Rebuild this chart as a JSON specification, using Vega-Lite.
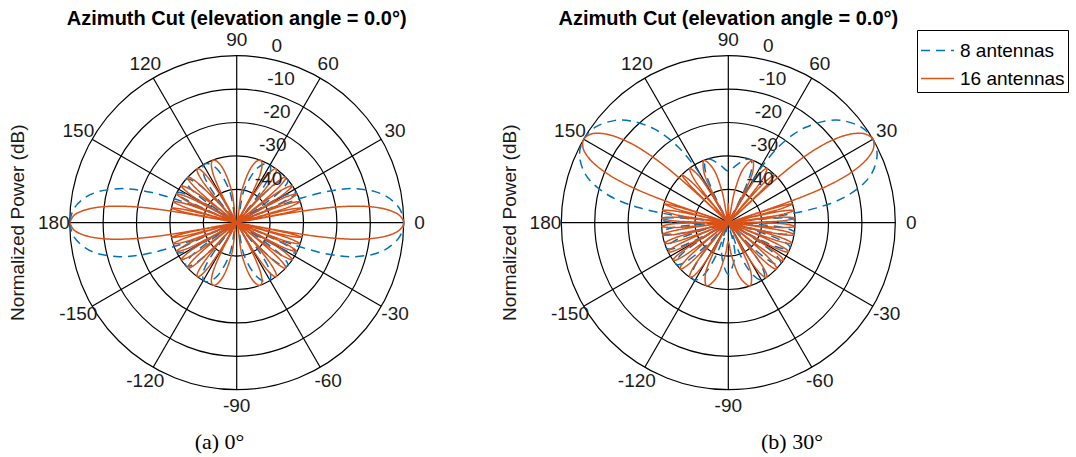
{
"$schema":"https://vega.github.io/schema/vega-lite/v6.json",
"width":1076,"height":457,
"autosize":{"type":"none"},
"padding":0,
"background":"white",
"config":{"view":{"stroke":null},"font":"Liberation Sans"},
"datasets":{
"L16":[
{"s":"16","a":0,"d":0},{"s":"16","a":2.55,"d":-1.19},{"s":"16","a":4.46,"d":-3.8},{"s":"16","a":5.74,"d":-6.55},{"s":"16","a":7.02,"d":-10.39},{"s":"16","a":7.98,"d":-14.3},{"s":"16","a":8.95,"d":-19.73},{"s":"16","a":9.59,"d":-25.01},{"s":"16","a":10.08,"d":-31.06},{"s":"16","a":10.4,"d":-38.12},{"s":"16","a":10.71,"d":-50},{"s":"16","a":11.09,"d":-40.2},{"s":"16","a":11.65,"d":-33},{"s":"16","a":12.6,"d":-30},{"s":"16","a":13.92,"d":-33},{"s":"16","a":14.72,"d":-40.2},{"s":"16","a":15.25,"d":-50},{"s":"16","a":15.88,"d":-40.2},{"s":"16","a":16.82,"d":-33},{"s":"16","a":18.39,"d":-30},{"s":"16","a":20.11,"d":-33},{"s":"16","a":21.15,"d":-40.2},{"s":"16","a":21.85,"d":-50},{"s":"16","a":22.59,"d":-40.2},{"s":"16","a":23.7,"d":-33},{"s":"16","a":25.57,"d":-30},{"s":"16","a":27.51,"d":-33},{"s":"16","a":28.69,"d":-40.2},{"s":"16","a":29.49,"d":-50},{"s":"16","a":30.31,"d":-40.2},{"s":"16","a":31.55,"d":-33},{"s":"16","a":33.65,"d":-30},{"s":"16","a":35.84,"d":-33},{"s":"16","a":37.19,"d":-40.2},{"s":"16","a":38.09,"d":-50},{"s":"16","a":39.02,"d":-40.2},{"s":"16","a":40.44,"d":-33},{"s":"16","a":41.88,"d":-30.45},{"s":"16","a":42.86,"d":-30},{"s":"16","a":43.86,"d":-30.45},{"s":"16","a":45.4,"d":-33},{"s":"16","a":46.98,"d":-40.2},{"s":"16","a":48.06,"d":-50},{"s":"16","a":49.16,"d":-40.2},{"s":"16","a":50.87,"d":-33},{"s":"16","a":52.65,"d":-30.45},{"s":"16","a":53.87,"d":-30},{"s":"16","a":55.13,"d":-30.45},{"s":"16","a":57.11,"d":-33},{"s":"16","a":59.19,"d":-40.2},{"s":"16","a":60.65,"d":-50},{"s":"16","a":62.19,"d":-40.2},{"s":"16","a":64.66,"d":-33},{"s":"16","a":67.37,"d":-30.45},{"s":"16","a":69.36,"d":-30},{"s":"16","a":71.56,"d":-30.45},{"s":"16","a":75.45,"d":-33},{"s":"16","a":80.81,"d":-40.2},{"s":"16","a":90,"d":-50},
{"s":"16","a":99.19,"d":-40.2},{"s":"16","a":104.55,"d":-33},{"s":"16","a":108.44,"d":-30.45},{"s":"16","a":110.64,"d":-30},{"s":"16","a":112.63,"d":-30.45},{"s":"16","a":115.34,"d":-33},{"s":"16","a":117.81,"d":-40.2},{"s":"16","a":119.35,"d":-50},{"s":"16","a":120.81,"d":-40.2},{"s":"16","a":122.89,"d":-33},{"s":"16","a":124.87,"d":-30.45},{"s":"16","a":126.13,"d":-30},{"s":"16","a":127.35,"d":-30.45},{"s":"16","a":129.13,"d":-33},{"s":"16","a":130.84,"d":-40.2},{"s":"16","a":131.94,"d":-50},{"s":"16","a":133.02,"d":-40.2},{"s":"16","a":134.6,"d":-33},{"s":"16","a":136.14,"d":-30.45},{"s":"16","a":137.14,"d":-30},{"s":"16","a":138.12,"d":-30.45},{"s":"16","a":139.56,"d":-33},{"s":"16","a":140.98,"d":-40.2},{"s":"16","a":141.91,"d":-50},{"s":"16","a":142.81,"d":-40.2},{"s":"16","a":144.16,"d":-33},{"s":"16","a":146.35,"d":-30},{"s":"16","a":148.45,"d":-33},{"s":"16","a":149.69,"d":-40.2},{"s":"16","a":150.51,"d":-50},{"s":"16","a":151.31,"d":-40.2},{"s":"16","a":152.49,"d":-33},{"s":"16","a":154.43,"d":-30},{"s":"16","a":156.3,"d":-33},{"s":"16","a":157.41,"d":-40.2},{"s":"16","a":158.15,"d":-50},{"s":"16","a":158.85,"d":-40.2},{"s":"16","a":159.89,"d":-33},{"s":"16","a":161.61,"d":-30},{"s":"16","a":163.18,"d":-33},{"s":"16","a":164.12,"d":-40.2},{"s":"16","a":164.75,"d":-50},{"s":"16","a":165.28,"d":-40.2},{"s":"16","a":166.08,"d":-33},{"s":"16","a":167.4,"d":-30},{"s":"16","a":168.35,"d":-33},{"s":"16","a":168.91,"d":-40.2},{"s":"16","a":169.29,"d":-50},{"s":"16","a":169.6,"d":-38.12},{"s":"16","a":169.92,"d":-31.06},{"s":"16","a":170.41,"d":-25.01},{"s":"16","a":171.05,"d":-19.73},{"s":"16","a":172.02,"d":-14.3},{"s":"16","a":172.98,"d":-10.39},{"s":"16","a":174.26,"d":-6.55},{"s":"16","a":175.54,"d":-3.8},{"s":"16","a":177.45,"d":-1.19},{"s":"16","a":180,"d":0},
{"s":"16","a":-2.55,"d":-1.19},{"s":"16","a":-4.46,"d":-3.8},{"s":"16","a":-5.74,"d":-6.55},{"s":"16","a":-7.02,"d":-10.39},{"s":"16","a":-7.98,"d":-14.3},{"s":"16","a":-8.95,"d":-19.73},{"s":"16","a":-9.59,"d":-25.01},{"s":"16","a":-10.08,"d":-31.06},{"s":"16","a":-10.4,"d":-38.12},{"s":"16","a":-10.71,"d":-50},{"s":"16","a":-11.09,"d":-40.2},{"s":"16","a":-11.65,"d":-33},{"s":"16","a":-12.6,"d":-30},{"s":"16","a":-13.92,"d":-33},{"s":"16","a":-14.72,"d":-40.2},{"s":"16","a":-15.25,"d":-50},{"s":"16","a":-15.88,"d":-40.2},{"s":"16","a":-16.82,"d":-33},{"s":"16","a":-18.39,"d":-30},{"s":"16","a":-20.11,"d":-33},{"s":"16","a":-21.15,"d":-40.2},{"s":"16","a":-21.85,"d":-50},{"s":"16","a":-22.59,"d":-40.2},{"s":"16","a":-23.7,"d":-33},{"s":"16","a":-25.57,"d":-30},{"s":"16","a":-27.51,"d":-33},{"s":"16","a":-28.69,"d":-40.2},{"s":"16","a":-29.49,"d":-50},{"s":"16","a":-30.31,"d":-40.2},{"s":"16","a":-31.55,"d":-33},{"s":"16","a":-33.65,"d":-30},{"s":"16","a":-35.84,"d":-33},{"s":"16","a":-37.19,"d":-40.2},{"s":"16","a":-38.09,"d":-50},{"s":"16","a":-39.02,"d":-40.2},{"s":"16","a":-40.44,"d":-33},{"s":"16","a":-41.88,"d":-30.45},{"s":"16","a":-42.86,"d":-30},{"s":"16","a":-43.86,"d":-30.45},{"s":"16","a":-45.4,"d":-33},{"s":"16","a":-46.98,"d":-40.2},{"s":"16","a":-48.06,"d":-50},{"s":"16","a":-49.16,"d":-40.2},{"s":"16","a":-50.87,"d":-33},{"s":"16","a":-52.65,"d":-30.45},{"s":"16","a":-53.87,"d":-30},{"s":"16","a":-55.13,"d":-30.45},{"s":"16","a":-57.11,"d":-33},{"s":"16","a":-59.19,"d":-40.2},{"s":"16","a":-60.65,"d":-50},{"s":"16","a":-62.19,"d":-40.2},{"s":"16","a":-64.66,"d":-33},{"s":"16","a":-67.37,"d":-30.45},{"s":"16","a":-69.36,"d":-30},{"s":"16","a":-71.56,"d":-30.45},{"s":"16","a":-75.45,"d":-33},{"s":"16","a":-80.81,"d":-40.2},{"s":"16","a":-90,"d":-50},
{"s":"16","a":-99.19,"d":-40.2},{"s":"16","a":-104.55,"d":-33},{"s":"16","a":-108.44,"d":-30.45},{"s":"16","a":-110.64,"d":-30},{"s":"16","a":-112.63,"d":-30.45},{"s":"16","a":-115.34,"d":-33},{"s":"16","a":-117.81,"d":-40.2},{"s":"16","a":-119.35,"d":-50},{"s":"16","a":-120.81,"d":-40.2},{"s":"16","a":-122.89,"d":-33},{"s":"16","a":-124.87,"d":-30.45},{"s":"16","a":-126.13,"d":-30},{"s":"16","a":-127.35,"d":-30.45},{"s":"16","a":-129.13,"d":-33},{"s":"16","a":-130.84,"d":-40.2},{"s":"16","a":-131.94,"d":-50},{"s":"16","a":-133.02,"d":-40.2},{"s":"16","a":-134.6,"d":-33},{"s":"16","a":-136.14,"d":-30.45},{"s":"16","a":-137.14,"d":-30},{"s":"16","a":-138.12,"d":-30.45},{"s":"16","a":-139.56,"d":-33},{"s":"16","a":-140.98,"d":-40.2},{"s":"16","a":-141.91,"d":-50},{"s":"16","a":-142.81,"d":-40.2},{"s":"16","a":-144.16,"d":-33},{"s":"16","a":-146.35,"d":-30},{"s":"16","a":-148.45,"d":-33},{"s":"16","a":-149.69,"d":-40.2},{"s":"16","a":-150.51,"d":-50},{"s":"16","a":-151.31,"d":-40.2},{"s":"16","a":-152.49,"d":-33},{"s":"16","a":-154.43,"d":-30},{"s":"16","a":-156.3,"d":-33},{"s":"16","a":-157.41,"d":-40.2},{"s":"16","a":-158.15,"d":-50},{"s":"16","a":-158.85,"d":-40.2},{"s":"16","a":-159.89,"d":-33},{"s":"16","a":-161.61,"d":-30},{"s":"16","a":-163.18,"d":-33},{"s":"16","a":-164.12,"d":-40.2},{"s":"16","a":-164.75,"d":-50},{"s":"16","a":-165.28,"d":-40.2},{"s":"16","a":-166.08,"d":-33},{"s":"16","a":-167.4,"d":-30},{"s":"16","a":-168.35,"d":-33},{"s":"16","a":-168.91,"d":-40.2},{"s":"16","a":-169.29,"d":-50},{"s":"16","a":-169.6,"d":-38.12},{"s":"16","a":-169.92,"d":-31.06},{"s":"16","a":-170.41,"d":-25.01},{"s":"16","a":-171.05,"d":-19.73},{"s":"16","a":-172.02,"d":-14.3},{"s":"16","a":-172.98,"d":-10.39},{"s":"16","a":-174.26,"d":-6.55},{"s":"16","a":-175.54,"d":-3.8},{"s":"16","a":-177.45,"d":-1.19},{"s":"16","a":-180,"d":0}
],
"L8":[
{"s":"8","a":0,"d":0},{"s":"8","a":4.78,"d":-0.995},{"s":"8","a":9.59,"d":-4.16},{"s":"8","a":12.84,"d":-7.81},{"s":"8","a":16.13,"d":-13.35},{"s":"8","a":17.79,"d":-17.28},{"s":"8","a":19.47,"d":-22.72},{"s":"8","a":20.83,"d":-29.48},{"s":"8","a":21.51,"d":-35.1},{"s":"8","a":22.02,"d":-42.9},{"s":"8","a":22.42,"d":-50},{"s":"8","a":23.24,"d":-40.2},{"s":"8","a":24.48,"d":-33},{"s":"8","a":25.73,"d":-30.45},{"s":"8","a":26.57,"d":-30},{"s":"8","a":27.76,"d":-30.45},{"s":"8","a":29.56,"d":-33},{"s":"8","a":31.39,"d":-40.2},{"s":"8","a":32.63,"d":-50},{"s":"8","a":34.09,"d":-40.2},{"s":"8","a":36.34,"d":-33},{"s":"8","a":38.64,"d":-30.45},{"s":"8","a":40.22,"d":-30},{"s":"8","a":41.97,"d":-30.45},{"s":"8","a":44.68,"d":-33},{"s":"8","a":47.52,"d":-40.2},{"s":"8","a":49.5,"d":-50},{"s":"8","a":51.65,"d":-40.2},{"s":"8","a":55.07,"d":-33},{"s":"8","a":58.87,"d":-30.45},{"s":"8","a":61.56,"d":-30},{"s":"8","a":64.61,"d":-30.45},{"s":"8","a":70,"d":-33},{"s":"8","a":77.38,"d":-40.2},{"s":"8","a":90,"d":-50},
{"s":"8","a":102.62,"d":-40.2},{"s":"8","a":110,"d":-33},{"s":"8","a":115.39,"d":-30.45},{"s":"8","a":118.44,"d":-30},{"s":"8","a":121.13,"d":-30.45},{"s":"8","a":124.93,"d":-33},{"s":"8","a":128.35,"d":-40.2},{"s":"8","a":130.5,"d":-50},{"s":"8","a":132.48,"d":-40.2},{"s":"8","a":135.32,"d":-33},{"s":"8","a":138.03,"d":-30.45},{"s":"8","a":139.78,"d":-30},{"s":"8","a":141.36,"d":-30.45},{"s":"8","a":143.66,"d":-33},{"s":"8","a":145.91,"d":-40.2},{"s":"8","a":147.37,"d":-50},{"s":"8","a":148.61,"d":-40.2},{"s":"8","a":150.44,"d":-33},{"s":"8","a":152.24,"d":-30.45},{"s":"8","a":153.43,"d":-30},{"s":"8","a":154.27,"d":-30.45},{"s":"8","a":155.52,"d":-33},{"s":"8","a":156.76,"d":-40.2},{"s":"8","a":157.58,"d":-50},{"s":"8","a":157.98,"d":-42.9},{"s":"8","a":158.49,"d":-35.1},{"s":"8","a":159.17,"d":-29.48},{"s":"8","a":160.53,"d":-22.72},{"s":"8","a":162.21,"d":-17.28},{"s":"8","a":163.87,"d":-13.35},{"s":"8","a":167.16,"d":-7.81},{"s":"8","a":170.41,"d":-4.16},{"s":"8","a":175.22,"d":-0.995},{"s":"8","a":180,"d":0},
{"s":"8","a":-4.78,"d":-0.995},{"s":"8","a":-9.59,"d":-4.16},{"s":"8","a":-12.84,"d":-7.81},{"s":"8","a":-16.13,"d":-13.35},{"s":"8","a":-17.79,"d":-17.28},{"s":"8","a":-19.47,"d":-22.72},{"s":"8","a":-20.83,"d":-29.48},{"s":"8","a":-21.51,"d":-35.1},{"s":"8","a":-22.02,"d":-42.9},{"s":"8","a":-22.42,"d":-50},{"s":"8","a":-23.24,"d":-40.2},{"s":"8","a":-24.48,"d":-33},{"s":"8","a":-25.73,"d":-30.45},{"s":"8","a":-26.57,"d":-30},{"s":"8","a":-27.76,"d":-30.45},{"s":"8","a":-29.56,"d":-33},{"s":"8","a":-31.39,"d":-40.2},{"s":"8","a":-32.63,"d":-50},{"s":"8","a":-34.09,"d":-40.2},{"s":"8","a":-36.34,"d":-33},{"s":"8","a":-38.64,"d":-30.45},{"s":"8","a":-40.22,"d":-30},{"s":"8","a":-41.97,"d":-30.45},{"s":"8","a":-44.68,"d":-33},{"s":"8","a":-47.52,"d":-40.2},{"s":"8","a":-49.5,"d":-50},{"s":"8","a":-51.65,"d":-40.2},{"s":"8","a":-55.07,"d":-33},{"s":"8","a":-58.87,"d":-30.45},{"s":"8","a":-61.56,"d":-30},{"s":"8","a":-64.61,"d":-30.45},{"s":"8","a":-70,"d":-33},{"s":"8","a":-77.38,"d":-40.2},{"s":"8","a":-90,"d":-50},
{"s":"8","a":-102.62,"d":-40.2},{"s":"8","a":-110,"d":-33},{"s":"8","a":-115.39,"d":-30.45},{"s":"8","a":-118.44,"d":-30},{"s":"8","a":-121.13,"d":-30.45},{"s":"8","a":-124.93,"d":-33},{"s":"8","a":-128.35,"d":-40.2},{"s":"8","a":-130.5,"d":-50},{"s":"8","a":-132.48,"d":-40.2},{"s":"8","a":-135.32,"d":-33},{"s":"8","a":-138.03,"d":-30.45},{"s":"8","a":-139.78,"d":-30},{"s":"8","a":-141.36,"d":-30.45},{"s":"8","a":-143.66,"d":-33},{"s":"8","a":-145.91,"d":-40.2},{"s":"8","a":-147.37,"d":-50},{"s":"8","a":-148.61,"d":-40.2},{"s":"8","a":-150.44,"d":-33},{"s":"8","a":-152.24,"d":-30.45},{"s":"8","a":-153.43,"d":-30},{"s":"8","a":-154.27,"d":-30.45},{"s":"8","a":-155.52,"d":-33},{"s":"8","a":-156.76,"d":-40.2},{"s":"8","a":-157.58,"d":-50},{"s":"8","a":-157.98,"d":-42.9},{"s":"8","a":-158.49,"d":-35.1},{"s":"8","a":-159.17,"d":-29.48},{"s":"8","a":-160.53,"d":-22.72},{"s":"8","a":-162.21,"d":-17.28},{"s":"8","a":-163.87,"d":-13.35},{"s":"8","a":-167.16,"d":-7.81},{"s":"8","a":-170.41,"d":-4.16},{"s":"8","a":-175.22,"d":-0.995},{"s":"8","a":-180,"d":0}
],
"R8":[
{"s":"8","a":-90,"d":-34.6},{"s":"8","a":-78.29,"d":-40.2},{"s":"8","a":-73.9,"d":-50},{"s":"8","a":-69.96,"d":-40.2},{"s":"8","a":-65.16,"d":-33},{"s":"8","a":-61.11,"d":-30.45},{"s":"8","a":-58.68,"d":-30},{"s":"8","a":-56.23,"d":-30.45},{"s":"8","a":-52.84,"d":-33},{"s":"8","a":-49.69,"d":-40.2},{"s":"8","a":-47.7,"d":-50},{"s":"8","a":-45.71,"d":-40.2},{"s":"8","a":-42.85,"d":-33},{"s":"8","a":-40.13,"d":-30.45},{"s":"8","a":-38.37,"d":-30},{"s":"8","a":-36.63,"d":-30.45},{"s":"8","a":-34.08,"d":-33},{"s":"8","a":-31.61,"d":-40.2},{"s":"8","a":-30,"d":-50},{"s":"8","a":-28.41,"d":-40.2},{"s":"8","a":-26.08,"d":-33},{"s":"8","a":-23.79,"d":-30.45},{"s":"8","a":-22.29,"d":-30},{"s":"8","a":-20.82,"d":-30.45},{"s":"8","a":-18.66,"d":-33},{"s":"8","a":-16.51,"d":-40.2},{"s":"8","a":-15.1,"d":-50},{"s":"8","a":-13.74,"d":-40.2},{"s":"8","a":-11.72,"d":-33},{"s":"8","a":-9.71,"d":-30.45},{"s":"8","a":-8.38,"d":-30},{"s":"8","a":-7.15,"d":-30.45},{"s":"8","a":-5.31,"d":-33},{"s":"8","a":-3.47,"d":-40.2},{"s":"8","a":-2.25,"d":-50},{"s":"8","a":-1.19,"d":-40.2},{"s":"8","a":0,"d":-34.6},{"s":"8","a":0.39,"d":-33},{"s":"8","a":1.96,"d":-30.45},{"s":"8","a":3.02,"d":-30},{"s":"8","a":3.77,"d":-30.45},{"s":"8","a":4.91,"d":-33},{"s":"8","a":6.05,"d":-40.2},{"s":"8","a":6.81,"d":-50},{"s":"8","a":7.18,"d":-42.9},{"s":"8","a":7.66,"d":-35.1},{"s":"8","a":8.31,"d":-29.48},{"s":"8","a":9.59,"d":-22.72},{"s":"8","a":11.21,"d":-17.28},{"s":"8","a":12.84,"d":-13.35},{"s":"8","a":16.13,"d":-7.81},{"s":"8","a":19.47,"d":-4.16},{"s":"8","a":24.62,"d":-0.995},{"s":"8","a":30,"d":0},{"s":"8","a":35.69,"d":-0.995},{"s":"8","a":41.81,"d":-4.16},{"s":"8","a":46.24,"d":-7.81},{"s":"8","a":51.06,"d":-13.35},{"s":"8","a":53.67,"d":-17.28},{"s":"8","a":56.45,"d":-22.72},{"s":"8","a":58.82,"d":-29.48},{"s":"8","a":60.08,"d":-35.1},{"s":"8","a":61.05,"d":-42.9},{"s":"8","a":61.82,"d":-50},{"s":"8","a":63.46,"d":-40.2},{"s":"8","a":66.12,"d":-33},{"s":"8","a":69.1,"d":-30.45},{"s":"8","a":71.33,"d":-30},{"s":"8","a":74.96,"d":-30.45},{"s":"8","a":83.35,"d":-33},{"s":"8","a":90,"d":-34.6},
{"s":"8","a":180,"d":-34.6},{"s":"8","a":-180,"d":-34.6},{"s":"8","a":179.61,"d":-33},{"s":"8","a":178.04,"d":-30.45},{"s":"8","a":176.98,"d":-30},{"s":"8","a":176.23,"d":-30.45},{"s":"8","a":175.09,"d":-33},{"s":"8","a":173.95,"d":-40.2},{"s":"8","a":173.19,"d":-50},{"s":"8","a":172.82,"d":-42.9},{"s":"8","a":172.34,"d":-35.1},{"s":"8","a":171.69,"d":-29.48},{"s":"8","a":170.41,"d":-22.72},{"s":"8","a":168.79,"d":-17.28},{"s":"8","a":167.16,"d":-13.35},{"s":"8","a":163.87,"d":-7.81},{"s":"8","a":160.53,"d":-4.16},{"s":"8","a":155.38,"d":-0.995},{"s":"8","a":150,"d":0},{"s":"8","a":144.31,"d":-0.995},{"s":"8","a":138.19,"d":-4.16},{"s":"8","a":133.76,"d":-7.81},{"s":"8","a":128.94,"d":-13.35},{"s":"8","a":126.33,"d":-17.28},{"s":"8","a":123.55,"d":-22.72},{"s":"8","a":121.18,"d":-29.48},{"s":"8","a":119.92,"d":-35.1},{"s":"8","a":118.95,"d":-42.9},{"s":"8","a":118.18,"d":-50},{"s":"8","a":116.54,"d":-40.2},{"s":"8","a":113.88,"d":-33},{"s":"8","a":110.9,"d":-30.45},{"s":"8","a":108.67,"d":-30},{"s":"8","a":105.04,"d":-30.45},{"s":"8","a":96.65,"d":-33},
{"s":"8","a":-178.81,"d":-40.2},{"s":"8","a":-177.75,"d":-50},{"s":"8","a":-176.53,"d":-40.2},{"s":"8","a":-174.69,"d":-33},{"s":"8","a":-172.85,"d":-30.45},{"s":"8","a":-171.62,"d":-30},{"s":"8","a":-170.29,"d":-30.45},{"s":"8","a":-168.28,"d":-33},{"s":"8","a":-166.26,"d":-40.2},{"s":"8","a":-164.9,"d":-50},{"s":"8","a":-163.49,"d":-40.2},{"s":"8","a":-161.34,"d":-33},{"s":"8","a":-159.18,"d":-30.45},{"s":"8","a":-157.71,"d":-30},{"s":"8","a":-156.21,"d":-30.45},{"s":"8","a":-153.92,"d":-33},{"s":"8","a":-151.59,"d":-40.2},{"s":"8","a":-150,"d":-50},{"s":"8","a":-148.39,"d":-40.2},{"s":"8","a":-145.92,"d":-33},{"s":"8","a":-143.37,"d":-30.45},{"s":"8","a":-141.63,"d":-30},{"s":"8","a":-139.87,"d":-30.45},{"s":"8","a":-137.15,"d":-33},{"s":"8","a":-134.29,"d":-40.2},{"s":"8","a":-132.3,"d":-50},{"s":"8","a":-130.31,"d":-40.2},{"s":"8","a":-127.16,"d":-33},{"s":"8","a":-123.77,"d":-30.45},{"s":"8","a":-121.32,"d":-30},{"s":"8","a":-118.89,"d":-30.45},{"s":"8","a":-114.84,"d":-33},{"s":"8","a":-110.04,"d":-40.2},{"s":"8","a":-106.1,"d":-50},{"s":"8","a":-101.71,"d":-40.2}
],
"R16":[
{"s":"16","a":-90,"d":-44.2},{"s":"16","a":-84.5,"d":-40.2},{"s":"16","a":-77.64,"d":-33},{"s":"16","a":-71.08,"d":-30},{"s":"16","a":-66.14,"d":-33},{"s":"16","a":-63.59,"d":-40.2},{"s":"16","a":-62.01,"d":-50},{"s":"16","a":-60.51,"d":-40.2},{"s":"16","a":-58.37,"d":-33},{"s":"16","a":-56.35,"d":-30.45},{"s":"16","a":-55.06,"d":-30},{"s":"16","a":-53.81,"d":-30.45},{"s":"16","a":-52,"d":-33},{"s":"16","a":-50.26,"d":-40.2},{"s":"16","a":-49.13,"d":-50},{"s":"16","a":-48.03,"d":-40.2},{"s":"16","a":-46.41,"d":-33},{"s":"16","a":-44.84,"d":-30.45},{"s":"16","a":-43.82,"d":-30},{"s":"16","a":-42.81,"d":-30.45},{"s":"16","a":-41.33,"d":-33},{"s":"16","a":-39.88,"d":-40.2},{"s":"16","a":-38.93,"d":-50},{"s":"16","a":-37.99,"d":-40.2},{"s":"16","a":-36.6,"d":-33},{"s":"16","a":-35.24,"d":-30.45},{"s":"16","a":-34.35,"d":-30},{"s":"16","a":-33.46,"d":-30.45},{"s":"16","a":-32.15,"d":-33},{"s":"16","a":-30.85,"d":-40.2},{"s":"16","a":-30,"d":-50},{"s":"16","a":-29.16,"d":-40.2},{"s":"16","a":-27.9,"d":-33},{"s":"16","a":-26.66,"d":-30.45},{"s":"16","a":-25.84,"d":-30},{"s":"16","a":-25.02,"d":-30.45},{"s":"16","a":-23.82,"d":-33},{"s":"16","a":-22.61,"d":-40.2},{"s":"16","a":-21.82,"d":-50},{"s":"16","a":-21.03,"d":-40.2},{"s":"16","a":-19.86,"d":-33},{"s":"16","a":-18.69,"d":-30.45},{"s":"16","a":-17.92,"d":-30},{"s":"16","a":-17.15,"d":-30.45},{"s":"16","a":-16,"d":-33},{"s":"16","a":-14.87,"d":-40.2},{"s":"16","a":-14.11,"d":-50},{"s":"16","a":-13.36,"d":-40.2},{"s":"16","a":-12.24,"d":-33},{"s":"16","a":-11.12,"d":-30.45},{"s":"16","a":-10.38,"d":-30},{"s":"16","a":-9.65,"d":-30.45},{"s":"16","a":-8.55,"d":-33},{"s":"16","a":-7.45,"d":-40.2},{"s":"16","a":-6.72,"d":-50},{"s":"16","a":-5.99,"d":-40.2},{"s":"16","a":-4.9,"d":-33},{"s":"16","a":-3.1,"d":-30},{"s":"16","a":-1.33,"d":-33},{"s":"16","a":-0.26,"d":-40.2},{"s":"16","a":0,"d":-44.2},{"s":"16","a":0.44,"d":-50},{"s":"16","a":1.14,"d":-40.2},{"s":"16","a":2.18,"d":-33},{"s":"16","a":3.92,"d":-30},{"s":"16","a":5.63,"d":-33},{"s":"16","a":6.66,"d":-40.2},{"s":"16","a":7.34,"d":-50},{"s":"16","a":8,"d":-40.2},{"s":"16","a":8.98,"d":-33},{"s":"16","a":10.64,"d":-30},{"s":"16","a":12.16,"d":-33},{"s":"16","a":13.09,"d":-40.2},{"s":"16","a":13.71,"d":-50},{"s":"16","a":14.24,"d":-40.2},{"s":"16","a":15.04,"d":-33},{"s":"16","a":16.38,"d":-30},{"s":"16","a":17.34,"d":-33},{"s":"16","a":17.92,"d":-40.2},{"s":"16","a":18.31,"d":-50},{"s":"16","a":18.63,"d":-38.12},{"s":"16","a":18.97,"d":-31.06},{"s":"16","a":19.47,"d":-25.01},{"s":"16","a":20.15,"d":-19.73},{"s":"16","a":21.17,"d":-14.3},{"s":"16","a":22.2,"d":-10.39},{"s":"16","a":23.58,"d":-6.55},{"s":"16","a":24.97,"d":-3.8},{"s":"16","a":27.1,"d":-1.19},{"s":"16","a":30,"d":0},{"s":"16","a":32.99,"d":-1.19},{"s":"16","a":35.3,"d":-3.8},{"s":"16","a":36.87,"d":-6.55},{"s":"16","a":38.48,"d":-10.39},{"s":"16","a":39.71,"d":-14.3},{"s":"16","a":40.96,"d":-19.73},{"s":"16","a":41.81,"d":-25.01},{"s":"16","a":42.46,"d":-31.06},{"s":"16","a":42.89,"d":-38.12},{"s":"16","a":43.3,"d":-50},{"s":"16","a":43.81,"d":-40.2},{"s":"16","a":44.58,"d":-33},{"s":"16","a":45.9,"d":-30},{"s":"16","a":47.78,"d":-33},{"s":"16","a":48.94,"d":-40.2},{"s":"16","a":49.74,"d":-50},{"s":"16","a":50.68,"d":-40.2},{"s":"16","a":52.12,"d":-33},{"s":"16","a":54.63,"d":-30},{"s":"16","a":57.55,"d":-33},{"s":"16","a":59.41,"d":-40.2},{"s":"16","a":60.71,"d":-50},{"s":"16","a":62.14,"d":-40.2},{"s":"16","a":64.41,"d":-33},{"s":"16","a":68.68,"d":-30},{"s":"16","a":74.15,"d":-33},{"s":"16","a":78.55,"d":-40.2},{"s":"16","a":82.88,"d":-50},{"s":"16","a":90,"d":-44.2},
{"s":"16","a":180,"d":-44.2},{"s":"16","a":-180,"d":-44.2},{"s":"16","a":179.56,"d":-50},{"s":"16","a":178.86,"d":-40.2},{"s":"16","a":177.82,"d":-33},{"s":"16","a":176.08,"d":-30},{"s":"16","a":174.37,"d":-33},{"s":"16","a":173.34,"d":-40.2},{"s":"16","a":172.66,"d":-50},{"s":"16","a":172,"d":-40.2},{"s":"16","a":171.02,"d":-33},{"s":"16","a":169.36,"d":-30},{"s":"16","a":167.84,"d":-33},{"s":"16","a":166.91,"d":-40.2},{"s":"16","a":166.29,"d":-50},{"s":"16","a":165.76,"d":-40.2},{"s":"16","a":164.96,"d":-33},{"s":"16","a":163.62,"d":-30},{"s":"16","a":162.66,"d":-33},{"s":"16","a":162.08,"d":-40.2},{"s":"16","a":161.69,"d":-50},{"s":"16","a":161.37,"d":-38.12},{"s":"16","a":161.03,"d":-31.06},{"s":"16","a":160.53,"d":-25.01},{"s":"16","a":159.85,"d":-19.73},{"s":"16","a":158.83,"d":-14.3},{"s":"16","a":157.8,"d":-10.39},{"s":"16","a":156.42,"d":-6.55},{"s":"16","a":155.03,"d":-3.8},{"s":"16","a":152.9,"d":-1.19},{"s":"16","a":150,"d":0},{"s":"16","a":147.01,"d":-1.19},{"s":"16","a":144.7,"d":-3.8},{"s":"16","a":143.13,"d":-6.55},{"s":"16","a":141.52,"d":-10.39},{"s":"16","a":140.29,"d":-14.3},{"s":"16","a":139.04,"d":-19.73},{"s":"16","a":138.19,"d":-25.01},{"s":"16","a":137.54,"d":-31.06},{"s":"16","a":137.11,"d":-38.12},{"s":"16","a":136.7,"d":-50},{"s":"16","a":136.19,"d":-40.2},{"s":"16","a":135.42,"d":-33},{"s":"16","a":134.1,"d":-30},{"s":"16","a":132.22,"d":-33},{"s":"16","a":131.06,"d":-40.2},{"s":"16","a":130.26,"d":-50},{"s":"16","a":129.32,"d":-40.2},{"s":"16","a":127.88,"d":-33},{"s":"16","a":125.37,"d":-30},{"s":"16","a":122.45,"d":-33},{"s":"16","a":120.59,"d":-40.2},{"s":"16","a":119.29,"d":-50},{"s":"16","a":117.86,"d":-40.2},{"s":"16","a":115.59,"d":-33},{"s":"16","a":111.32,"d":-30},{"s":"16","a":105.85,"d":-33},{"s":"16","a":101.45,"d":-40.2},{"s":"16","a":97.12,"d":-50},
{"s":"16","a":-179.74,"d":-40.2},{"s":"16","a":-178.67,"d":-33},{"s":"16","a":-176.9,"d":-30},{"s":"16","a":-175.1,"d":-33},{"s":"16","a":-174.01,"d":-40.2},{"s":"16","a":-173.28,"d":-50},{"s":"16","a":-172.55,"d":-40.2},{"s":"16","a":-171.45,"d":-33},{"s":"16","a":-170.35,"d":-30.45},{"s":"16","a":-169.62,"d":-30},{"s":"16","a":-168.88,"d":-30.45},{"s":"16","a":-167.76,"d":-33},{"s":"16","a":-166.64,"d":-40.2},{"s":"16","a":-165.89,"d":-50},{"s":"16","a":-165.13,"d":-40.2},{"s":"16","a":-164,"d":-33},{"s":"16","a":-162.85,"d":-30.45},{"s":"16","a":-162.08,"d":-30},{"s":"16","a":-161.31,"d":-30.45},{"s":"16","a":-160.14,"d":-33},{"s":"16","a":-158.97,"d":-40.2},{"s":"16","a":-158.18,"d":-50},{"s":"16","a":-157.39,"d":-40.2},{"s":"16","a":-156.18,"d":-33},{"s":"16","a":-154.98,"d":-30.45},{"s":"16","a":-154.16,"d":-30},{"s":"16","a":-153.34,"d":-30.45},{"s":"16","a":-152.1,"d":-33},{"s":"16","a":-150.84,"d":-40.2},{"s":"16","a":-150,"d":-50},{"s":"16","a":-149.15,"d":-40.2},{"s":"16","a":-147.85,"d":-33},{"s":"16","a":-146.54,"d":-30.45},{"s":"16","a":-145.65,"d":-30},{"s":"16","a":-144.76,"d":-30.45},{"s":"16","a":-143.4,"d":-33},{"s":"16","a":-142.01,"d":-40.2},{"s":"16","a":-141.07,"d":-50},{"s":"16","a":-140.12,"d":-40.2},{"s":"16","a":-138.67,"d":-33},{"s":"16","a":-137.19,"d":-30.45},{"s":"16","a":-136.18,"d":-30},{"s":"16","a":-135.16,"d":-30.45},{"s":"16","a":-133.59,"d":-33},{"s":"16","a":-131.97,"d":-40.2},{"s":"16","a":-130.87,"d":-50},{"s":"16","a":-129.74,"d":-40.2},{"s":"16","a":-128,"d":-33},{"s":"16","a":-126.19,"d":-30.45},{"s":"16","a":-124.94,"d":-30},{"s":"16","a":-123.65,"d":-30.45},{"s":"16","a":-121.63,"d":-33},{"s":"16","a":-119.49,"d":-40.2},{"s":"16","a":-117.99,"d":-50},{"s":"16","a":-116.41,"d":-40.2},{"s":"16","a":-113.86,"d":-33},{"s":"16","a":-108.92,"d":-30},{"s":"16","a":-102.36,"d":-33},{"s":"16","a":-95.5,"d":-40.2}
]
},
"layer":[
{
"data":{"values":[{"r":0.2},{"r":0.4},{"r":0.6},{"r":0.8},{"r":1}]},
"mark":{"type":"arc","filled":false,"stroke":"black","strokeWidth":1.2,"theta":0,"theta2":6.2832},
"encoding":{
"x":{"datum":0,"type":"quantitative","scale":{"domain":[-1.4174,5.0257],"nice":false,"zero":false},"axis":null},
"y":{"datum":0,"type":"quantitative","scale":{"domain":[-1.403,1.3335],"nice":false,"zero":false},"axis":null},
"radius":{"field":"r","type":"quantitative","stack":null,"scale":{"type":"linear","domain":[0,1.3683],"zero":true,"nice":false},"legend":null}
}
},
{
"data":{"values":[{"r":0.2},{"r":0.4},{"r":0.6},{"r":0.8},{"r":1}]},
"mark":{"type":"arc","filled":false,"stroke":"black","strokeWidth":1.2,"theta":0,"theta2":6.2832},
"encoding":{
"x":{"datum":2.9437,"type":"quantitative","scale":{"domain":[-1.4174,5.0257],"nice":false,"zero":false},"axis":null},
"y":{"datum":0,"type":"quantitative","scale":{"domain":[-1.403,1.3335],"nice":false,"zero":false},"axis":null},
"radius":{"field":"r","type":"quantitative","stack":null,"scale":{"type":"linear","domain":[0,1.3683],"zero":true,"nice":false},"legend":null}
}
},
{
"data":{"values":[{"p":0,"g":0},{"p":0,"g":30},{"p":0,"g":60},{"p":0,"g":90},{"p":0,"g":120},{"p":0,"g":150},{"p":1,"g":0},{"p":1,"g":30},{"p":1,"g":60},{"p":1,"g":90},{"p":1,"g":120},{"p":1,"g":150}]},
"transform":[{"calculate":"datum.p*2.9437","as":"cx"},{"calculate":"datum.cx+cos(datum.g*PI/180)","as":"x1"},{"calculate":"datum.cx-cos(datum.g*PI/180)","as":"x2"},{"calculate":"sin(datum.g*PI/180)","as":"y1"},{"calculate":"-sin(datum.g*PI/180)","as":"y2"}],
"mark":{"type":"rule","color":"black","strokeWidth":1.2},
"encoding":{
"x":{"field":"x1","type":"quantitative","scale":{"domain":[-1.4174,5.0257],"nice":false,"zero":false},"axis":null},
"x2":{"field":"x2"},
"y":{"field":"y1","type":"quantitative","scale":{"domain":[-1.403,1.3335],"nice":false,"zero":false},"axis":null},
"y2":{"field":"y2"}
}
},
{
"data":{"name":"L8"},
"transform":[{"calculate":"max(0,(datum.d+50)/50)","as":"r"},{"calculate":"datum.r*cos(datum.a*PI/180)","as":"x"},{"calculate":"datum.r*sin(datum.a*PI/180)","as":"y"}],
"mark":{"type":"line","strokeWidth":1.5,"interpolate":"catmull-rom"},
"encoding":{
"x":{"field":"x","type":"quantitative","scale":{"domain":[-1.4174,5.0257],"nice":false,"zero":false},"axis":null},
"y":{"field":"y","type":"quantitative","scale":{"domain":[-1.403,1.3335],"nice":false,"zero":false},"axis":null},
"order":{"field":"a","type":"quantitative"},
"color":{"field":"s","type":"nominal","scale":{"domain":["8","16"],"range":["#0072BD","#D95319"]},"legend":{"title":null,"orient":"none","legendX":917,"legendY":30,"labelExpr":"datum.label + ' antennas'","labelFontSize":19,"labelFont":"Liberation Sans","labelColor":"black","symbolType":"stroke","symbolSize":1089,"symbolStrokeWidth":1.5,"strokeColor":"black","fillColor":"white","padding":3,"rowPadding":-11,"labelOffset":5,"labelLimit":300}},
"strokeDash":{"field":"s","type":"nominal","scale":{"domain":["8","16"],"range":[[9,6],[1,0]]},"legend":{"title":null,"orient":"none","legendX":917,"legendY":30,"labelExpr":"datum.label + ' antennas'","labelFontSize":19,"labelFont":"Liberation Sans","labelColor":"black","symbolType":"stroke","symbolSize":1089,"symbolStrokeWidth":1.5,"strokeColor":"black","fillColor":"white","padding":3,"rowPadding":-11,"labelOffset":5,"labelLimit":300}}
}
},
{
"data":{"name":"R8"},
"transform":[{"calculate":"max(0,(datum.d+50)/50)","as":"r"},{"calculate":"2.9437+datum.r*cos(datum.a*PI/180)","as":"x"},{"calculate":"datum.r*sin(datum.a*PI/180)","as":"y"}],
"mark":{"type":"line","strokeWidth":1.5,"interpolate":"catmull-rom"},
"encoding":{
"x":{"field":"x","type":"quantitative","scale":{"domain":[-1.4174,5.0257],"nice":false,"zero":false},"axis":null},
"y":{"field":"y","type":"quantitative","scale":{"domain":[-1.403,1.3335],"nice":false,"zero":false},"axis":null},
"order":{"field":"a","type":"quantitative"},
"color":{"field":"s","type":"nominal"},
"strokeDash":{"field":"s","type":"nominal"}
}
},
{
"data":{"name":"L16"},
"transform":[{"calculate":"max(0,(datum.d+50)/50)","as":"r"},{"calculate":"datum.r*cos(datum.a*PI/180)","as":"x"},{"calculate":"datum.r*sin(datum.a*PI/180)","as":"y"}],
"mark":{"type":"line","strokeWidth":1.5,"interpolate":"catmull-rom"},
"encoding":{
"x":{"field":"x","type":"quantitative","scale":{"domain":[-1.4174,5.0257],"nice":false,"zero":false},"axis":null},
"y":{"field":"y","type":"quantitative","scale":{"domain":[-1.403,1.3335],"nice":false,"zero":false},"axis":null},
"order":{"field":"a","type":"quantitative"},
"color":{"field":"s","type":"nominal"},
"strokeDash":{"field":"s","type":"nominal"}
}
},
{
"data":{"name":"R16"},
"transform":[{"calculate":"max(0,(datum.d+50)/50)","as":"r"},{"calculate":"2.9437+datum.r*cos(datum.a*PI/180)","as":"x"},{"calculate":"datum.r*sin(datum.a*PI/180)","as":"y"}],
"mark":{"type":"line","strokeWidth":1.5,"interpolate":"catmull-rom"},
"encoding":{
"x":{"field":"x","type":"quantitative","scale":{"domain":[-1.4174,5.0257],"nice":false,"zero":false},"axis":null},
"y":{"field":"y","type":"quantitative","scale":{"domain":[-1.403,1.3335],"nice":false,"zero":false},"axis":null},
"order":{"field":"a","type":"quantitative"},
"color":{"field":"s","type":"nominal"},
"strokeDash":{"field":"s","type":"nominal"}
}
},
{
"data":{"values":[{"p":0,"g":0,"t":"0"},{"p":0,"g":30,"t":"30"},{"p":0,"g":60,"t":"60"},{"p":0,"g":90,"t":"90"},{"p":0,"g":120,"t":"120"},{"p":0,"g":150,"t":"150"},{"p":0,"g":180,"t":"180"},{"p":0,"g":210,"t":"-150"},{"p":0,"g":240,"t":"-120"},{"p":0,"g":270,"t":"-90"},{"p":0,"g":300,"t":"-60"},{"p":0,"g":330,"t":"-30"},{"p":1,"g":0,"t":"0"},{"p":1,"g":30,"t":"30"},{"p":1,"g":60,"t":"60"},{"p":1,"g":90,"t":"90"},{"p":1,"g":120,"t":"120"},{"p":1,"g":150,"t":"150"},{"p":1,"g":180,"t":"180"},{"p":1,"g":210,"t":"-150"},{"p":1,"g":240,"t":"-120"},{"p":1,"g":270,"t":"-90"},{"p":1,"g":300,"t":"-60"},{"p":1,"g":330,"t":"-30"}]},
"transform":[{"calculate":"datum.p*2.9437+1.095*cos(datum.g*PI/180)","as":"x"},{"calculate":"1.095*sin(datum.g*PI/180)","as":"y"}],
"mark":{"type":"text","fontSize":19,"font":"Liberation Sans","align":"center","baseline":"middle","color":"#1a1a1a"},
"encoding":{
"x":{"field":"x","type":"quantitative","scale":{"domain":[-1.4174,5.0257],"nice":false,"zero":false},"axis":null},
"y":{"field":"y","type":"quantitative","scale":{"domain":[-1.403,1.3335],"nice":false,"zero":false},"axis":null},
"text":{"field":"t"}
}
},
{
"data":{"values":[{"p":0,"r":1,"t":"0"},{"p":0,"r":0.8,"t":"-10"},{"p":0,"r":0.6,"t":"-20"},{"p":0,"r":0.4,"t":"-30"},{"p":0,"r":0.2,"t":"-40"},{"p":1,"r":1,"t":"0"},{"p":1,"r":0.8,"t":"-10"},{"p":1,"r":0.6,"t":"-20"},{"p":1,"r":0.4,"t":"-30"},{"p":1,"r":0.2,"t":"-40"}]},
"transform":[{"calculate":"datum.p*2.9437+0.124*datum.r","as":"x"},{"calculate":"0.992*datum.r","as":"y"}],
"mark":{"type":"text","fontSize":19,"font":"Liberation Sans","align":"left","baseline":"middle","dx":14,"dy":-11,"color":"#1a1a1a"},
"encoding":{
"x":{"field":"x","type":"quantitative","scale":{"domain":[-1.4174,5.0257],"nice":false,"zero":false},"axis":null},
"y":{"field":"y","type":"quantitative","scale":{"domain":[-1.403,1.3335],"nice":false,"zero":false},"axis":null},
"text":{"field":"t"}
}
},
{
"data":{"values":[{"p":0,"t":"Azimuth Cut (elevation angle = 0.0°)"},{"p":1,"t":"Azimuth Cut (elevation angle = 0.0°)"}]},
"transform":[{"calculate":"datum.p*2.9437","as":"x"},{"calculate":"1.1838","as":"y"}],
"mark":{"type":"text","fontSize":20,"font":"Liberation Sans","fontWeight":"bold","align":"center","baseline":"alphabetic","color":"black"},
"encoding":{
"x":{"field":"x","type":"quantitative","scale":{"domain":[-1.4174,5.0257],"nice":false,"zero":false},"axis":null},
"y":{"field":"y","type":"quantitative","scale":{"domain":[-1.403,1.3335],"nice":false,"zero":false},"axis":null},
"text":{"field":"t"}
}
},
{
"data":{"values":[{"p":0,"t":"Normalized Power (dB)"},{"p":1,"t":"Normalized Power (dB)"}]},
"transform":[{"calculate":"datum.p*2.9437-1.309","as":"x"},{"calculate":"0","as":"y"}],
"mark":{"type":"text","fontSize":19,"font":"Liberation Sans","align":"center","baseline":"middle","angle":270,"color":"#1a1a1a"},
"encoding":{
"x":{"field":"x","type":"quantitative","scale":{"domain":[-1.4174,5.0257],"nice":false,"zero":false},"axis":null},
"y":{"field":"y","type":"quantitative","scale":{"domain":[-1.403,1.3335],"nice":false,"zero":false},"axis":null},
"text":{"field":"t"}
}
},
{
"data":{"values":[{"p":0,"t":"(a)  0°"},{"p":1,"t":"(b)  30°"}]},
"transform":[{"calculate":"datum.p==0 ? -0.103 : 3.325","as":"x"},{"calculate":"-1.355","as":"y"}],
"mark":{"type":"text","fontSize":22,"font":"Liberation Serif","align":"center","baseline":"alphabetic","color":"black"},
"encoding":{
"x":{"field":"x","type":"quantitative","scale":{"domain":[-1.4174,5.0257],"nice":false,"zero":false},"axis":null},
"y":{"field":"y","type":"quantitative","scale":{"domain":[-1.403,1.3335],"nice":false,"zero":false},"axis":null},
"text":{"field":"t"}
}
}
]
}
